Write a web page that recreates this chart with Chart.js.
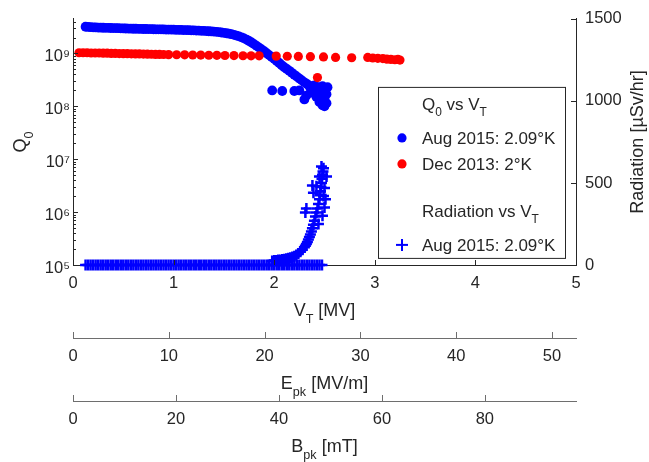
<!DOCTYPE html>
<html>
<head>
<meta charset="utf-8">
<script src="https://cdn.jsdelivr.net/npm/chart.js@4.4.0/dist/chart.umd.min.js"></script>
<style>
html, body { margin: 0; padding: 0; background: #fff; }
#campo { width: 649px; height: 462px; }
</style>
</head>
<body>
<div id="campo"><canvas id="grafico" width="649" height="462"></canvas></div>
<script>
// Q0 vs VT, Aug 2015 at 2.09 K (VT in MV)
const vAug = [0.125,0.15,0.175,0.2,0.225,0.25,0.275,0.3,0.325,0.35,0.375,0.4,0.425,0.45,0.475,0.5,
  0.525,0.55,0.575,0.6,0.625,0.65,0.675,0.7,0.725,0.75,0.775,0.8,0.825,0.85,0.875,0.9,0.925,0.95,0.975,1.0,
  1.025,1.05,1.075,1.1,1.125,1.15,1.175,1.2,1.225,1.25,1.275,1.3,1.325,1.35,1.375,1.4,1.425,1.45,1.475,1.5,
  1.525,1.55,1.575,1.6,1.625,1.65,1.675,1.7,1.725,1.75,1.775,1.8,1.825,1.85,1.875,1.9,1.925,1.95,1.975,2.0,
  2.025,2.05,2.075,2.1,2.125,2.15,2.175,2.2,2.225,2.25,2.275,2.3,2.325,2.35,2.375,2.4,2.425,2.45,2.475];
const qAug = [3.20e9,3.17e9,3.14e9,3.12e9,3.10e9,3.09e9,3.07e9,3.06e9,3.05e9,3.04e9,3.03e9,3.02e9,3.01e9,3.00e9,2.98e9,2.97e9,
  2.96e9,2.95e9,2.94e9,2.93e9,2.93e9,2.92e9,2.91e9,2.90e9,2.90e9,2.89e9,2.88e9,2.87e9,2.86e9,2.85e9,2.85e9,2.84e9,2.83e9,2.82e9,2.82e9,2.81e9,
  2.80e9,2.79e9,2.78e9,2.77e9,2.76e9,2.75e9,2.74e9,2.73e9,2.71e9,2.70e9,2.68e9,2.67e9,2.65e9,2.63e9,2.61e9,2.59e9,2.56e9,2.53e9,2.49e9,2.45e9,
  2.41e9,2.36e9,2.31e9,2.25e9,2.18e9,2.10e9,2.02e9,1.93e9,1.83e9,1.72e9,1.61e9,1.50e9,1.39e9,1.29e9,1.19e9,1.10e9,1.01e9,9.3e8,8.6e8,7.9e8,
  7.2e8,6.6e8,6.0e8,5.5e8,5.1e8,4.7e8,4.3e8,3.95e8,3.65e8,3.35e8,3.1e8,2.85e8,2.65e8,2.45e8,2.3e8,2.15e8,2.0e8,1.88e8,1.75e8];
// scattered points near the quench
const vAugExtra = [1.98,2.08,2.20,2.25,2.30,2.32,2.36,2.38,2.40,2.42,2.44,2.45,2.46,2.48,2.48,2.50,2.51,2.52,2.52,2.53,2.50,2.47];
const qAugExtra = [2.0e8,1.95e8,1.95e8,2.0e8,1.35e8,1.6e8,2.2e8,1.8e8,2.5e8,1.5e8,2.3e8,1.2e8,1.9e8,1.05e8,2.4e8,1.4e8,2.1e8,1.15e8,1.7e8,2.3e8,1.0e8,1.3e8];

// Q0 vs VT, Dec 2013 at 2 K
const vDec = [0.06,0.10,0.14,0.18,0.22,0.26,0.30,0.34,0.38,0.42,0.46,0.50,0.54,0.58,0.62,0.66,0.70,0.74,0.78,0.82,0.86,0.90,0.95,
  1.03,1.11,1.19,1.27,1.35,1.43,1.51,1.60,1.69,1.77,1.85,2.02,2.13,2.24,2.36,2.43,2.49,2.61,2.77,2.93,2.98,3.03,3.08,3.12,3.16,3.20,3.23,3.25];
const qDec = [1.03e9,1.03e9,1.03e9,1.02e9,1.02e9,1.02e9,1.01e9,1.01e9,1.0e9,1.0e9,9.95e8,9.9e8,9.9e8,9.85e8,9.8e8,9.8e8,9.75e8,9.7e8,9.65e8,9.6e8,9.6e8,9.55e8,9.5e8,
  9.45e8,9.4e8,9.35e8,9.3e8,9.25e8,9.2e8,9.15e8,9.1e8,9.05e8,9.0e8,9.0e8,8.9e8,8.85e8,8.8e8,8.7e8,3.5e8,8.6e8,8.4e8,8.3e8,8.4e8,8.2e8,8.1e8,8.0e8,7.8e8,7.7e8,7.6e8,7.7e8,7.5e8];

// Radiation vs VT, Aug 2015 (uSv/hr): zero readings at every vAug step, then the rise
const radZero = [0,0,0,0,0,0,0,0,0,0,0,0,0,0,0,0, 0,0,0,0,0,0,0,0,0,0,0,0,0,0,0,0,0,0,0,0,
  0,0,0,0,0,0,0,0,0,0,0,0,0,0,0,0,0,0,0,0, 0,0,0,0,0,0,0,0,0,0,0,0,0,0,0,0,0,0,0,0,
  0,0,0,0,0,0,0,0,0,0,0,0,0,0,0,0,0,0,0];
const vRad = [1.98,2.00,2.02,2.04,2.06,2.08,2.10,2.12,2.14,2.16,2.18,2.20,2.22,2.24,2.26,2.28,2.30,2.31,2.32,2.33,
  2.34,2.35,2.36,2.37,2.38,2.39,2.40,2.41,2.42,2.43,2.44,2.45,2.455,2.46,2.465,2.47,2.475,2.48,2.485,2.49,
  2.31,2.32,2.38,2.39,2.42,2.45,2.47,2.50,2.51,2.52,2.50,2.48,2.44,2.49];
const radRise = [25,27,28,30,31,33,35,38,41,44,48,54,61,70,80,93,108,117,128,140,
  155,170,186,204,224,246,270,295,320,345,372,400,425,450,475,500,525,550,570,590,
  320,345,485,440,480,540,600,470,400,540,350,300,250,420];

// axes
const vtTicks = [0, 1, 2, 3, 4, 5];
const radTicks = [0, 500, 1000, 1500];
const epkMax = 52.5;   // Epk at VT = 5 MV
const bpkMax = 97.7;   // Bpk at VT = 5 MV

const FONTE = '"Liberation Sans", Arial, Helvetica, sans-serif';
const COR_TXT = '#262626';
const sup = {5: '\u2075', 6: '\u2076', 7: '\u2077', 8: '\u2078', 9: '\u2079'};

function pares(xs, ys) {
  return xs.map((x, i) => ({x: x, y: ys[i]}));
}

// text with subscripts: partes = [[texto, isSub], ...]
function textoRico(ctx, partes, x, y, tam, alinhar) {
  let w = 0;
  partes.forEach(p => {
    ctx.font = (p[1] ? tam * 0.7 : tam) + 'px ' + FONTE;
    w += ctx.measureText(p[0]).width;
  });
  let cx = alinhar === 'center' ? x - w / 2 : x;
  partes.forEach(p => {
    ctx.font = (p[1] ? tam * 0.7 : tam) + 'px ' + FONTE;
    ctx.fillText(p[0], cx, y + (p[1] ? tam * 0.38 : 0));
    cx += ctx.measureText(p[0]).width;
  });
}

function linha(ctx, x1, y1, x2, y2) {
  ctx.beginPath();
  ctx.moveTo(x1, y1);
  ctx.lineTo(x2, y2);
  ctx.stroke();
}

const extrasPlugin = {
  id: 'extras',
  afterDraw(chart) {
    const {ctx, chartArea, scales} = chart;
    ctx.save();
    ctx.lineWidth = 1;

    // inward tick marks
    ctx.strokeStyle = COR_TXT;
    scales.x.ticks.forEach(t => {
      const px = Math.round(scales.x.getPixelForValue(t.value)) + 0.5;
      linha(ctx, px, chartArea.bottom, px, chartArea.bottom - 5);
    });
    scales.y.ticks.forEach(t => {
      const e = Math.floor(Math.log10(t.value) + 1e-9);
      const m = t.value / Math.pow(10, e);
      if (Math.abs(m - Math.round(m)) > 1e-6) return;
      const py = Math.round(scales.y.getPixelForValue(t.value)) + 0.5;
      linha(ctx, chartArea.left, py, chartArea.left + (Math.round(m) === 1 ? 5 : 3), py);
    });
    scales.y2.ticks.forEach(t => {
      const py = Math.round(scales.y2.getPixelForValue(t.value)) + 0.5;
      linha(ctx, chartArea.right, py, chartArea.right - 5, py);
    });
    ctx.strokeStyle = '#6e6e6e';
    ['xE', 'xB'].forEach(id => {
      const s = scales[id];
      s.ticks.forEach(t => {
        const px = Math.round(s.getPixelForValue(t.value)) + 0.5;
        linha(ctx, px, s.top, px, s.top - 6);
      });
    });

    // axis titles
    ctx.fillStyle = COR_TXT;
    ctx.textAlign = 'left';
    ctx.textBaseline = 'alphabetic';
    const mid = (chartArea.left + chartArea.right) / 2;
    textoRico(ctx, [['V', 0], ['T', 1], [' [MV]', 0]], mid, scales.x.top + 51, 18, 'center');
    textoRico(ctx, [['E', 0], ['pk', 1], [' [MV/m]', 0]], mid, scales.xE.top + 51, 18, 'center');
    textoRico(ctx, [['B', 0], ['pk', 1], [' [mT]', 0]], mid, scales.xB.top + 51, 18, 'center');
    const midY = (chartArea.top + chartArea.bottom) / 2;
    ctx.save();
    ctx.translate(20, midY);
    ctx.rotate(-Math.PI / 2);
    textoRico(ctx, [['Q', 0], ['0', 1]], 0, 6, 18, 'center');
    ctx.restore();
    ctx.save();
    ctx.translate(637, midY);
    ctx.rotate(-Math.PI / 2);
    textoRico(ctx, [['Radiation [\u00b5Sv/hr]', 0]], 0, 6, 18, 'center');
    ctx.restore();

    // legend
    const bx = chartArea.right - 198, by = chartArea.top + 68, bw = 187, bh = 171;
    ctx.fillStyle = '#fff';
    ctx.fillRect(bx, by, bw, bh);
    ctx.strokeStyle = COR_TXT;
    ctx.strokeRect(bx + 0.5, by + 0.5, bw, bh);
    ctx.fillStyle = COR_TXT;
    const tx = bx + 44, mx = bx + 24;
    textoRico(ctx, [['Q', 0], ['0', 1], [' vs V', 0], ['T', 1]], tx, by + 23, 17, 'left');
    textoRico(ctx, [['Aug 2015: 2.09\u00b0K', 0]], tx, by + 57, 17, 'left');
    textoRico(ctx, [['Dec 2013: 2\u00b0K', 0]], tx, by + 83, 17, 'left');
    textoRico(ctx, [['Radiation vs V', 0], ['T', 1]], tx, by + 130, 17, 'left');
    textoRico(ctx, [['Aug 2015: 2.09\u00b0K', 0]], tx, by + 164, 17, 'left');
    ctx.fillStyle = '#0000ff';
    ctx.beginPath(); ctx.arc(mx, by + 51, 4.6, 0, Math.PI * 2); ctx.fill();
    ctx.fillStyle = '#ff0000';
    ctx.beginPath(); ctx.arc(mx, by + 77, 4.6, 0, Math.PI * 2); ctx.fill();
    ctx.strokeStyle = '#0000ff';
    ctx.lineWidth = 2;
    linha(ctx, mx - 6, by + 158, mx + 6, by + 158);
    linha(ctx, mx, by + 152, mx, by + 164);
    ctx.restore();
  }
};

const config = {
  type: 'scatter',
  data: {
    datasets: [{
      label: 'Dec 2013: 2\u00b0K',
      data: pares(vDec, qDec),
      yAxisID: 'y',
      backgroundColor: '#ff0000',
      borderColor: '#ff0000',
      pointRadius: 4.6,
      pointBorderWidth: 0,
      clip: false,
      order: 0
    }, {
      label: 'Aug 2015: 2.09\u00b0K',
      data: pares(vAug, qAug).concat(pares(vAugExtra, qAugExtra)),
      yAxisID: 'y',
      backgroundColor: '#0000ff',
      borderColor: '#0000ff',
      pointRadius: 4.9,
      pointBorderWidth: 0,
      clip: false,
      order: 1
    }, {
      label: 'Radiation Aug 2015: 2.09\u00b0K',
      data: pares(vAug, radZero).concat(pares(vRad, radRise)),
      yAxisID: 'y2',
      pointStyle: 'cross',
      borderColor: '#0000ff',
      backgroundColor: '#0000ff',
      pointRadius: 5.5,
      pointBorderWidth: 2.5,
      clip: false,
      order: 2
    }]
  },
  options: {
    responsive: false,
    animation: false,
    devicePixelRatio: 1,
    layout: {padding: {top: 14, left: 0, right: 0, bottom: 0}},
    plugins: {legend: {display: false}, tooltip: {enabled: false}},
    scales: {
      x: {
        type: 'linear', position: 'bottom', weight: 0,
        min: 0, max: 5,
        afterBuildTicks: s => { s.ticks = vtTicks.map(v => ({value: v})); },
        grid: {display: false, drawTicks: false},
        border: {display: true, color: COR_TXT, width: 1},
        ticks: {color: COR_TXT, font: {family: FONTE, size: 16.5}, padding: 9, maxRotation: 0},
        afterFit: s => { s.height = 73; }
      },
      xE: {
        type: 'linear', position: 'bottom', weight: 1, display: true,
        min: 0, max: epkMax,
        grid: {display: false, drawTicks: false},
        border: {display: true, color: '#6e6e6e', width: 1},
        ticks: {stepSize: 10, includeBounds: false, color: COR_TXT, font: {family: FONTE, size: 16.5}, padding: 9, maxRotation: 0},
        afterFit: s => { s.height = 63; }
      },
      xB: {
        type: 'linear', position: 'bottom', weight: 2, display: true,
        min: 0, max: bpkMax,
        grid: {display: false, drawTicks: false},
        border: {display: true, color: '#6e6e6e', width: 1},
        ticks: {stepSize: 20, includeBounds: false, color: COR_TXT, font: {family: FONTE, size: 16.5}, padding: 9, maxRotation: 0},
        afterFit: s => { s.height = 61; }
      },
      y: {
        type: 'logarithmic', position: 'left',
        min: 1e5, max: 4.5e9,
        grid: {display: false, drawTicks: false},
        border: {display: true, color: COR_TXT, width: 1},
        ticks: {
          color: COR_TXT, font: {family: FONTE, size: 16.5}, padding: 3, autoSkip: false, labelOffset: 3,
          callback: v => {
            const e = Math.log10(v);
            return Math.abs(e - Math.round(e)) < 1e-9 ? '10' + sup[Math.round(e)] : '';
          }
        },
        afterFit: s => { s.width = 73; }
      },
      y2: {
        type: 'linear', position: 'right',
        min: 0, max: 1500,
        afterBuildTicks: s => { s.ticks = radTicks.map(v => ({value: v})); },
        grid: {display: false, drawTicks: false},
        border: {display: true, color: COR_TXT, width: 1},
        ticks: {color: COR_TXT, font: {family: FONTE, size: 16.5}, padding: 9, callback: v => String(v)},
        afterFit: s => { s.width = 73; }
      }
    }
  },
  plugins: [extrasPlugin]
};

window.chartQ0 = new Chart(document.getElementById('grafico'), config);
</script>
</body>
</html>
